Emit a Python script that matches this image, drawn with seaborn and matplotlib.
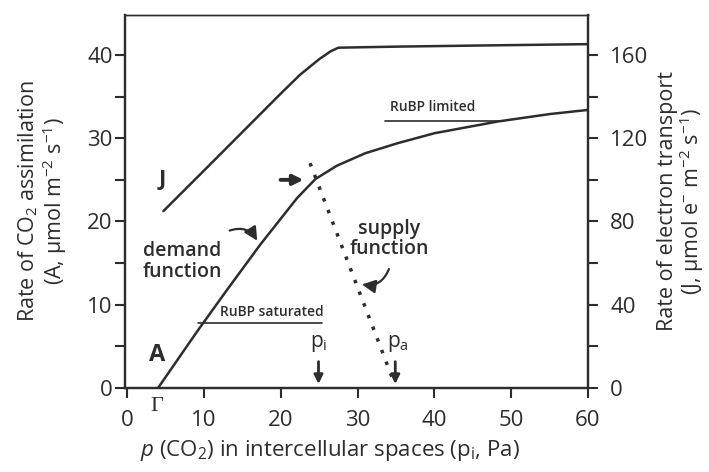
import matplotlib
matplotlib.use("Agg")
import matplotlib.pyplot as plt
import seaborn as sns
import pandas as pd
from matplotlib.ticker import MultipleLocator

# ---- data ----
j_x = [4.7, 10, 15, 20, 22.5, 25, 26.5, 27.5, 35, 45, 60]
j_y = [85, 104.5, 123, 141.5, 150.5, 158, 161.8, 163.5, 164, 164.5, 165.2]

a_x = [4.0, 9.1, 13.0, 17.3, 22.1, 24.5, 27.3, 31, 35.2, 40, 48.2, 55, 60]
a_y = [0.0, 6.8, 11.8, 17.2, 22.8, 25.1, 26.7, 28.2, 29.4, 30.6, 32.0, 32.9, 33.4]

supply_x = [23.8, 34.6]
supply_y = [27.0, 1.0]

x_ticks = [0, 10, 20, 30, 40, 50, 60]
left_ticks = [0, 10, 20, 30, 40]
right_ticks = [0, 40, 80, 120, 160]
p_i, p_a, gamma = 24.9, 34.9, 3.9

INK = "#2b2e2b"

sns.set_theme(style="white")
plt.rcParams["font.family"] = ["Open Sans", "DejaVu Sans"]
plt.rcParams["mathtext.fontset"] = "custom"
plt.rcParams["mathtext.rm"] = "Open Sans"
plt.rcParams["mathtext.it"] = "Open Sans:italic"
plt.rcParams["mathtext.bf"] = "Open Sans:bold"
plt.rcParams["text.color"] = INK
plt.rcParams["axes.labelcolor"] = INK

fig = plt.figure(figsize=(7.09, 4.72), dpi=100)
ax = fig.add_axes([125 / 709, 1 - 388 / 472, (588 - 125) / 709, (388 - 15) / 472])
ax2 = ax.twinx()

dfA = pd.DataFrame({"x": a_x, "y": a_y})
dfJ = pd.DataFrame({"x": j_x, "y": j_y})
dfS = pd.DataFrame({"x": supply_x, "y": supply_y})

sns.lineplot(data=dfA, x="x", y="y", ax=ax, color=INK, lw=1.8, sort=False)
sns.lineplot(data=dfS, x="x", y="y", ax=ax, color=INK, lw=2.5, sort=False,
             linestyle=(0, (1, 2.6)))
sns.lineplot(data=dfJ, x="x", y="y", ax=ax2, color=INK, lw=1.8, sort=False)

ax.set_xlim(-0.3, 60)
ax.set_ylim(0, 44.8)
ax2.set_ylim(0, 44.8 * 4)

for a in (ax, ax2):
    for name, s in a.spines.items():
        s.set_color(INK)
        s.set_linewidth(1.0 if name == "top" else 1.6)
        s.set_visible(True)

ax.set_xticks(x_ticks)
ax.set_yticks(left_ticks)
ax.yaxis.set_minor_locator(MultipleLocator(5))
ax2.set_yticks(right_ticks)
ax2.yaxis.set_minor_locator(MultipleLocator(20))

ax.tick_params(axis="x", which="both", direction="out", length=7, width=1.5,
               color=INK, labelsize=16, labelcolor=INK, pad=9, bottom=True)
ax.tick_params(axis="y", which="both", direction="out", length=7, width=1.5,
               color=INK, labelsize=16, labelcolor=INK, pad=2, left=True)
ax2.tick_params(axis="y", which="both", direction="out", length=7, width=1.5,
                color=INK, labelsize=16, labelcolor=INK, pad=9, right=True)

ax.set_xlabel(r"$p$ (CO$_2$) in intercellular spaces (p$_\mathregular{i}$, Pa)",
              fontsize=16)
ax.xaxis.set_label_coords(0.443, -0.135)
ax.set_ylabel("Rate of CO$_2$ assimilation\n(A, \u03bcmol m$^{-2}$ s$^{-1}$)",
              fontsize=15.5, linespacing=1.0)
ax.yaxis.set_label_coords(-0.122, 0.5)
ax2.set_ylabel("Rate of electron transport\n(J, \u03bcmol e$^{-}$ m$^{-2}$ s$^{-1}$)",
               fontsize=15.5, linespacing=1.0, rotation=90)
ax2.yaxis.set_label_coords(1.148, 0.5)

# ---- annotations ----
ax.text(4.6, 25.0, "J", fontsize=16, fontweight="bold", ha="center", va="center")
ax.text(3.9, 4.0, "A", fontsize=17, fontweight="bold", ha="center", va="center")
ax.text(2.0, 15.2, "demand\nfunction", fontsize=14, ha="left", va="center",
        linespacing=1.05, fontweight="semibold")
ax.text(34.1, 17.9, "supply\nfunction", fontsize=14, ha="center", va="center",
        linespacing=1.05, fontweight="semibold")

ax.text(18.8, 9.1, "RuBP saturated", fontsize=10, ha="center", va="center",
        fontweight="semibold")
ax.plot([9.2, 25.4], [7.8, 7.8], color=INK, lw=1.2)
ax.text(39.8, 33.7, "RuBP limited", fontsize=10, ha="center", va="center",
        fontweight="semibold")
ax.plot([33.6, 49.0], [32.1, 32.1], color=INK, lw=1.2)

ax.text(gamma, -2.2, "\u0393", fontsize=16, ha="center", va="center",
        family=["Liberation Serif"], clip_on=False)

# curved arrows
ax.annotate("", xy=(17.1, 17.4), xytext=(13.0, 18.8),
            arrowprops=dict(arrowstyle="-|>", color=INK, lw=1.6,
                            mutation_scale=20,
                            connectionstyle="arc3,rad=-0.45"))
ax.annotate("", xy=(30.2, 12.5), xytext=(34.2, 14.6),
            arrowprops=dict(arrowstyle="-|>", color=INK, lw=1.6,
                            mutation_scale=20,
                            connectionstyle="arc3,rad=-0.45"))
# horizontal arrow at the intersection
ax.annotate("", xy=(23.3, 25.0), xytext=(19.6, 25.0),
            arrowprops=dict(arrowstyle="-|>", color=INK, lw=2.8,
                            mutation_scale=15))

# p_i and p_a markers
ax.text(p_i, 5.3, "p$_\\mathregular{i}$", fontsize=15, ha="center", va="center")
ax.text(p_a + 0.3, 5.3, "p$_\\mathregular{a}$", fontsize=15, ha="center", va="center")
for px in (p_i, p_a):
    ax.annotate("", xy=(px, 0.15), xytext=(px, 3.5),
                arrowprops=dict(arrowstyle="-|>", color=INK, lw=2.0,
                                mutation_scale=13))

fig.savefig("out.png", dpi=100)
